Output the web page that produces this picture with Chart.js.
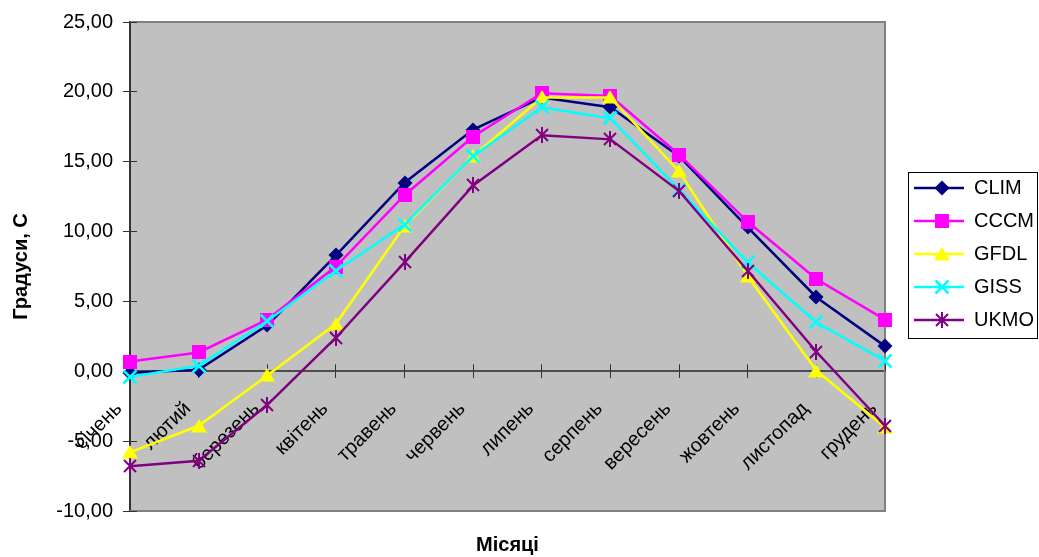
<!DOCTYPE html>
<html lang="uk">
<head>
<meta charset="utf-8">
<title>Температура повітря за місяцями</title>
<script src="https://cdn.jsdelivr.net/npm/chart.js@4.4.1/dist/chart.umd.min.js"></script>
<style>
  html, body { margin: 0; padding: 0; background: #ffffff; }
  canvas { display: block; }
</style>
</head>
<body>
<canvas id="chart" width="1039" height="557"></canvas>
<script>
// Місяці (категорії осі X)
const months = ['січень', 'лютий', 'березень', 'квітень', 'травень', 'червень',
                'липень', 'серпень', 'вересень', 'жовтень', 'листопад', 'грудень'];

// Середньомісячні температури, °C
const clim = [-0.1, 0.1, 3.3, 8.3, 13.5, 17.3, 19.6, 18.9, 15.4, 10.3, 5.3, 1.8];
const cccm = [0.7, 1.35, 3.7, 7.5, 12.6, 16.8, 19.9, 19.7, 15.5, 10.7, 6.6, 3.7];
const gfdl = [-5.8, -3.9, -0.3, 3.4, 10.4, 15.4, 19.6, 19.6, 14.3, 6.8, 0.05, -4.0];
const giss = [-0.4, 0.4, 3.6, 7.2, 10.5, 15.4, 18.9, 18.1, 13.0, 7.8, 3.5, 0.75];
const ukmo = [-6.8, -6.4, -2.4, 2.4, 7.8, 13.3, 16.9, 16.6, 12.9, 7.2, 1.4, -3.9];

// Шкала температур
const yMin = -10;
const yMax = 25;
const yStep = 5;

Chart.defaults.font.family = "'Liberation Sans', Arial, sans-serif";
Chart.defaults.font.size = 20;
Chart.defaults.color = '#000000';

// Маркери у стилі електронних таблиць
function paintMarker(g, kind, cx, cy, color) {
  g.save();
  g.fillStyle = color;
  g.strokeStyle = color;
  g.lineCap = 'butt';
  g.beginPath();
  if (kind === 'diamond') {
    g.moveTo(cx, cy - 7.5); g.lineTo(cx + 7.5, cy); g.lineTo(cx, cy + 7.5); g.lineTo(cx - 7.5, cy);
    g.closePath(); g.fill();
  } else if (kind === 'square') {
    g.rect(cx - 7, cy - 7, 14, 14); g.fill();
  } else if (kind === 'triangle') {
    g.moveTo(cx, cy - 7); g.lineTo(cx + 8, cy + 6.5); g.lineTo(cx - 8, cy + 6.5);
    g.closePath(); g.fill();
  } else if (kind === 'cross') {
    g.lineWidth = 2.5;
    g.moveTo(cx - 6.5, cy - 6.5); g.lineTo(cx + 6.5, cy + 6.5);
    g.moveTo(cx + 6.5, cy - 6.5); g.lineTo(cx - 6.5, cy + 6.5);
    g.stroke();
  } else if (kind === 'star') {
    g.lineWidth = 2;
    g.moveTo(cx - 6, cy - 6); g.lineTo(cx + 6, cy + 6);
    g.moveTo(cx + 6, cy - 6); g.lineTo(cx - 6, cy + 6);
    g.moveTo(cx, cy - 8); g.lineTo(cx, cy + 8);
    g.stroke();
  }
  g.restore();
}

function markerImage(kind, color) {
  const c = document.createElement('canvas');
  c.width = 20; c.height = 20;
  paintMarker(c.getContext('2d'), kind, 10, 10, color);
  return c;
}

function legendSwatch(kind, color) {
  const c = document.createElement('canvas');
  c.width = 66; c.height = 22;
  const g = c.getContext('2d');
  g.strokeStyle = color;
  g.lineWidth = 2.5;
  g.beginPath(); g.moveTo(16, 11); g.lineTo(66, 11); g.stroke();
  paintMarker(g, kind, 44, 11, color);
  return c;
}

const seriesStyle = [
  { label: 'CLIM', data: clim, color: '#000080', marker: 'diamond' },
  { label: 'CCCM', data: cccm, color: '#ff00ff', marker: 'square' },
  { label: 'GFDL', data: gfdl, color: '#ffff00', marker: 'triangle' },
  { label: 'GISS', data: giss, color: '#00ffff', marker: 'cross' },
  { label: 'UKMO', data: ukmo, color: '#800080', marker: 'star' }
];

const datasets = seriesStyle.map((s, i) => ({
  label: s.label,
  data: s.data,
  borderColor: s.color,
  backgroundColor: s.color,
  borderWidth: 2.5,
  tension: 0,
  pointStyle: markerImage(s.marker, s.color),
  pointRadius: 5,
  pointHoverRadius: 5,
  pointBorderWidth: 0,
  clip: false,
  order: seriesStyle.length - i,
  swatch: legendSwatch(s.marker, s.color)
}));

// Тло області побудови, рамка, внутрішні половинки поділок, рамка легенди
const plotFrame = {
  id: 'plotFrame',
  beforeLayout(chart) {
    const legend = chart.legend;
    if (legend && !legend.$fixedWidth) {
      const fit = legend.fit;
      legend.fit = function () { fit.call(this); this.width = 154; };
      legend.$fixedWidth = true;
    }
  },
  afterLayout(chart) {
    if (chart.legend) chart.legend.top = 165;
  },
  beforeDraw(chart) {
    const { ctx, chartArea: a } = chart;
    ctx.save();
    ctx.fillStyle = '#c0c0c0';
    ctx.fillRect(a.left, a.top, a.right - a.left, a.bottom - a.top);
    ctx.restore();
  },
  beforeDatasetsDraw(chart) {
    const { ctx, chartArea: a, scales } = chart;
    const align = (p) => Math.round(p - 0.5) + 0.5;
    ctx.save();
    ctx.strokeStyle = '#808080';
    ctx.lineWidth = 2;
    ctx.beginPath();
    ctx.moveTo(a.left, a.top); ctx.lineTo(a.right, a.top);
    ctx.lineTo(a.right, a.bottom); ctx.lineTo(a.left, a.bottom);
    ctx.stroke();

    ctx.strokeStyle = '#333333';
    ctx.lineWidth = 1;
    ctx.beginPath();
    const y0 = scales.y.getPixelForValue(0);
    scales.x.ticks.forEach((t, i) => {
      const px = align(scales.x.getPixelForTick(i));
      ctx.moveTo(px, y0 - 7); ctx.lineTo(px, y0);
    });
    scales.y.ticks.forEach((t, i) => {
      const py = align(scales.y.getPixelForTick(i));
      ctx.moveTo(a.left, py); ctx.lineTo(a.left + 7, py);
    });
    ctx.stroke();
    ctx.restore();

    ctx.save();
    ctx.imageSmoothingEnabled = false;
  },
  afterDatasetsDraw(chart) {
    chart.ctx.restore();
  },
  afterDraw(chart) {
    const lg = chart.legend;
    const hb = lg && lg.legendHitBoxes;
    if (!hb || !hb.length) return;
    const first = hb[0];
    const last = hb[hb.length - 1];
    const left = Math.round(first.left + 10) + 0.5;
    const top = Math.round(first.top - 6) + 0.5;
    const right = Math.round(lg.right - 2) + 0.5;
    const bottom = Math.round(last.top + last.height + 8) + 0.5;
    const ctx = chart.ctx;
    ctx.save();
    ctx.strokeStyle = '#000000';
    ctx.lineWidth = 1;
    ctx.strokeRect(left, top, right - left, bottom - top);
    ctx.restore();
  }
};

new Chart(document.getElementById('chart'), {
  type: 'line',
  data: { labels: months, datasets },
  plugins: [plotFrame],
  options: {
    responsive: false,
    animation: false,
    events: [],
    layout: { padding: { top: 20, left: 0, right: 0, bottom: 0 } },
    plugins: {
      tooltip: { enabled: false },
      legend: {
        position: 'right',
        align: 'start',
        labels: {
          usePointStyle: true,
          pointStyleWidth: 66,
          padding: 13,
          color: '#000000',
          font: { size: 20 },
          generateLabels(chart) {
            return chart.data.datasets.map((ds, i) => ({
              text: ds.label,
              fillStyle: ds.backgroundColor,
              strokeStyle: ds.borderColor,
              fontColor: '#000000',
              lineWidth: 0,
              pointStyle: ds.swatch,
              hidden: false,
              datasetIndex: i
            }));
          }
        }
      }
    },
    scales: {
      x: {
        type: 'category',
        position: { y: 0 },
        offset: false,
        grid: { display: true, drawOnChartArea: false, drawTicks: true, tickLength: 6, tickWidth: 1, color: '#333333' },
        border: { display: true, color: '#4d4d4d', width: 2 },
        ticks: { autoSkip: false, minRotation: 45, maxRotation: 45, padding: 20, labelOffset: -11, font: { size: 20 } }
      },
      x2: {
        type: 'category',
        position: 'bottom',
        grid: { display: false },
        border: { display: false },
        ticks: { display: false },
        title: { display: true, text: 'Місяці', font: { size: 20, weight: 'bold' }, padding: { top: 0, bottom: 0 } },
        afterFit(scale) { scale.height = 46; }
      },
      y: {
        type: 'linear',
        position: 'left',
        min: yMin,
        max: yMax,
        ticks: {
          stepSize: yStep,
          padding: 10,
          font: { size: 20 },
          callback: (v) => Number(v).toFixed(2).replace('.', ',')
        },
        grid: { drawOnChartArea: false, tickLength: 7, tickWidth: 1, color: '#333333' },
        border: { display: true, color: '#333333', width: 2 },
        title: { display: true, text: 'Градуси, С', font: { size: 20, weight: 'bold' }, padding: { top: 9, bottom: 0 } },
        afterFit(scale) { scale.width = 130; }
      }
    }
  }
});
</script>
</body>
</html>
